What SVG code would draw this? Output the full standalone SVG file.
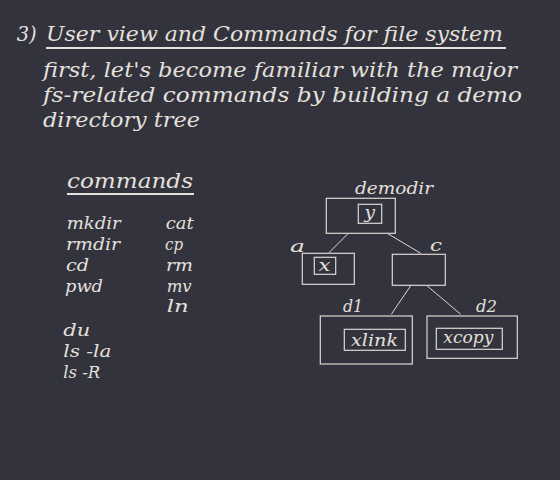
<svg xmlns="http://www.w3.org/2000/svg" width="560" height="480" viewBox="0 0 560 480">
<style>
text{font-family:"DejaVu Serif","Liberation Serif",serif;font-style:italic;fill:#e4e0dc}
.h{font-size:20px}
.cmd{font-size:16px}
.lbl{font-size:16px}
.box{fill:none;stroke:#dcd8d4;stroke-width:1.2}
.ul{stroke:#e4e0dc;stroke-width:2}
.edge{stroke:#dcd8d4;stroke-width:1}
</style>
<rect width="560" height="480" fill="#33333d"/>
<g id="title">
<text class="h" x="16.7" y="41" textLength="20" lengthAdjust="spacingAndGlyphs">3)</text>
<text class="h" x="46" y="41" textLength="457" lengthAdjust="spacingAndGlyphs">User view and Commands for file system</text>
<line class="ul" x1="46" y1="48" x2="506" y2="48"/>
</g>
<g id="intro">
<text class="h" x="43" y="77" textLength="474" lengthAdjust="spacingAndGlyphs">first, let's become familiar with the major</text>
<text class="h" x="43" y="102" textLength="479" lengthAdjust="spacingAndGlyphs">fs-related commands by building a demo</text>
<text class="h" x="43" y="126.5" textLength="157" lengthAdjust="spacingAndGlyphs">directory tree</text>
</g>
<g id="commands">
<text class="h" x="67" y="188" textLength="126" lengthAdjust="spacingAndGlyphs">commands</text>
<line class="ul" x1="67" y1="194" x2="194" y2="194"/>
<text class="cmd" x="66.7" y="229" textLength="54" lengthAdjust="spacingAndGlyphs">mkdir</text>
<text class="cmd" x="66" y="250" textLength="54" lengthAdjust="spacingAndGlyphs">rmdir</text>
<text class="cmd" x="66" y="271" textLength="23" lengthAdjust="spacingAndGlyphs">cd</text>
<text class="cmd" x="65" y="291.5" textLength="38" lengthAdjust="spacingAndGlyphs">pwd</text>
<text class="cmd" x="165.7" y="229" textLength="28" lengthAdjust="spacingAndGlyphs">cat</text>
<text class="cmd" x="165" y="250" textLength="18" lengthAdjust="spacingAndGlyphs">cp</text>
<text class="cmd" x="166" y="271" textLength="27" lengthAdjust="spacingAndGlyphs">rm</text>
<text class="cmd" x="166.7" y="292" textLength="25" lengthAdjust="spacingAndGlyphs">mv</text>
<text class="cmd" x="166.7" y="312" textLength="22" lengthAdjust="spacingAndGlyphs">ln</text>
<text class="cmd" x="63.3" y="335.5" textLength="27" lengthAdjust="spacingAndGlyphs">du</text>
<text class="cmd" x="63.3" y="356.5" textLength="48" lengthAdjust="spacingAndGlyphs">ls -la</text>
<text class="cmd" x="63.3" y="378" textLength="37" lengthAdjust="spacingAndGlyphs">ls -R</text>
</g>
<g id="connectors">
<line class="edge" x1="348.3" y1="233.3" x2="329" y2="252.7"/>
<line class="edge" x1="387.3" y1="233.3" x2="420.7" y2="253.3"/>
<line class="edge" x1="410.7" y1="285.7" x2="391.3" y2="314.3"/>
<line class="edge" x1="427" y1="285.7" x2="460.7" y2="314.3"/>
</g>
<g id="demodir">
<text class="lbl" x="355" y="194" textLength="78" lengthAdjust="spacingAndGlyphs">demodir</text>
<rect class="box" x="326.3" y="198.3" width="69" height="35"/>
<rect class="box" x="358.3" y="204.3" width="23.4" height="19"/>
<text class="lbl" x="364.5" y="218" textLength="10.5" lengthAdjust="spacingAndGlyphs">y</text>
</g>
<g id="a">
<text class="lbl" x="290" y="251.7" textLength="15" lengthAdjust="spacingAndGlyphs">a</text>
<rect class="box" x="302.3" y="253.3" width="52" height="31"/>
<rect class="box" x="314.3" y="257.3" width="21.4" height="17"/>
<text class="lbl" x="318.5" y="270.5" textLength="12" lengthAdjust="spacingAndGlyphs">x</text>
</g>
<g id="c">
<text class="lbl" x="430" y="251" textLength="12" lengthAdjust="spacingAndGlyphs">c</text>
<rect class="box" x="392.3" y="254.3" width="53" height="31"/>
</g>
<g id="d1">
<text class="lbl" x="343" y="311.7" textLength="20" lengthAdjust="spacingAndGlyphs">d1</text>
<rect class="box" x="320.3" y="316" width="92" height="48"/>
<rect class="box" x="344.3" y="329.3" width="61" height="21"/>
<text class="lbl" x="351" y="345.5" textLength="47" lengthAdjust="spacingAndGlyphs">xlink</text>
</g>
<g id="d2">
<text class="lbl" x="476" y="311.7" textLength="21" lengthAdjust="spacingAndGlyphs">d2</text>
<rect class="box" x="427" y="316" width="90.3" height="42.3"/>
<rect class="box" x="436.3" y="328.3" width="66" height="21"/>
<text class="lbl" x="443.3" y="343" textLength="50" lengthAdjust="spacingAndGlyphs">xcopy</text>
</g>
</svg>
